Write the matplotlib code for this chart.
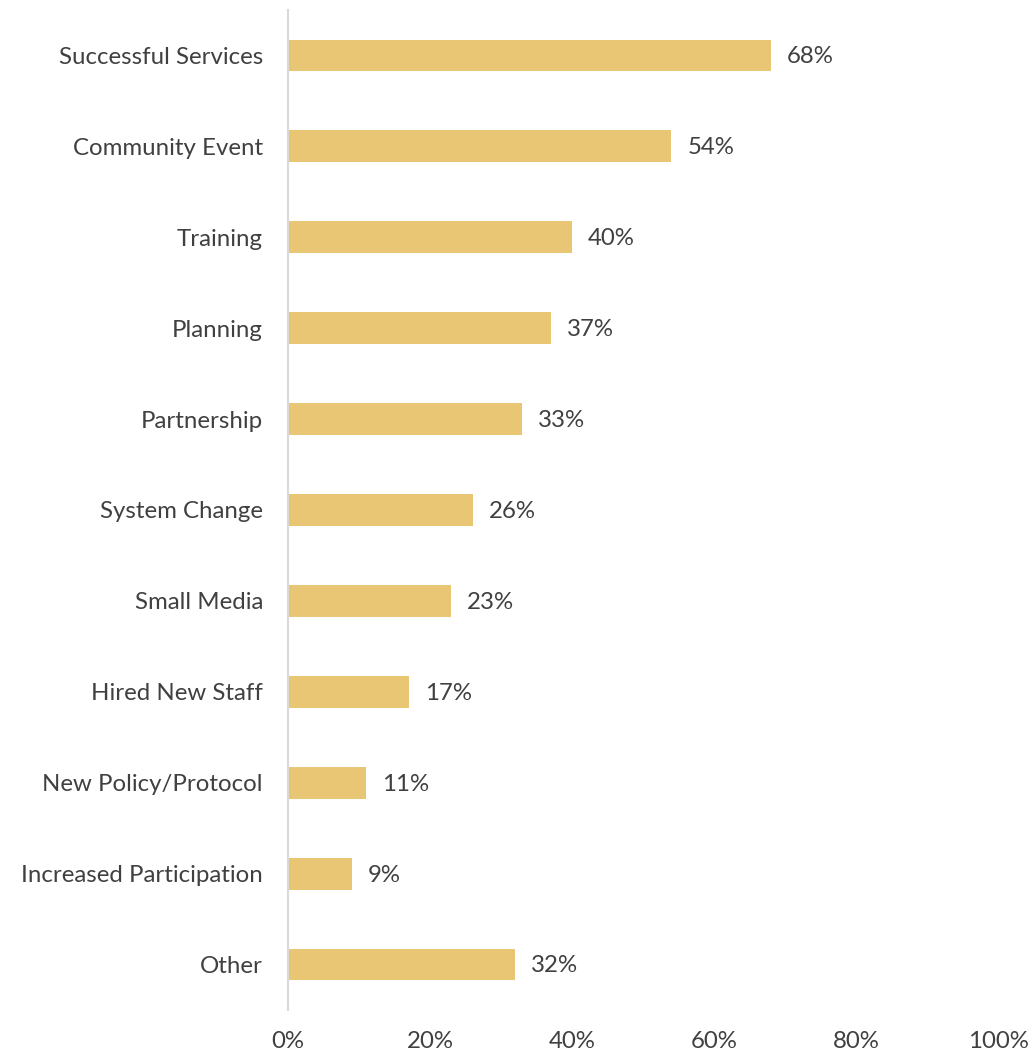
import matplotlib
matplotlib.use("Agg")
import matplotlib.pyplot as plt
from matplotlib.ticker import FuncFormatter

categories = ["Successful Services", "Community Event", "Training", "Planning",
              "Partnership", "System Change", "Small Media", "Hired New Staff",
              "New Policy/Protocol", "Increased Participation", "Other"]
values = [68, 54, 40, 37, 33, 26, 23, 17, 11, 9, 32]
xticks = [0, 20, 40, 60, 80, 100]

plt.rcParams['font.family'] = ['Lato', 'DejaVu Sans']
text_color = '#404040'
bar_color = '#E8C674'
fs = 17.3

fig = plt.figure(figsize=(10.31, 10.53), dpi=100)
ax = fig.add_axes([288/1031, 43/1053, 710/1031, 1000/1053])

y = list(range(len(categories)))
ax.barh(y, values, height=0.35, color=bar_color)
for yi, v in zip(y, values):
    ax.annotate(f"{v}%", (v, yi), xytext=(11.5, -1), textcoords='offset points',
                va='center', ha='left', fontsize=fs, color=text_color)

ax.set_xlim(0, 100)
ax.set_ylim(len(categories) - 0.5, -0.5)
ax.set_yticks(y)
ax.set_yticklabels(categories, fontsize=fs, color=text_color)
ax.set_xticks(xticks)
ax.xaxis.set_major_formatter(FuncFormatter(lambda v, p: f"{int(v)}%"))
ax.tick_params(axis='x', length=0, pad=15, labelsize=fs, labelcolor=text_color)
ax.tick_params(axis='y', length=0, pad=18)
for s in ['top', 'right', 'bottom']:
    ax.spines[s].set_visible(False)
ax.spines['left'].set_color('#D9D9D9')
ax.spines['left'].set_linewidth(1.5)

fig.savefig("out.png", dpi=100)
